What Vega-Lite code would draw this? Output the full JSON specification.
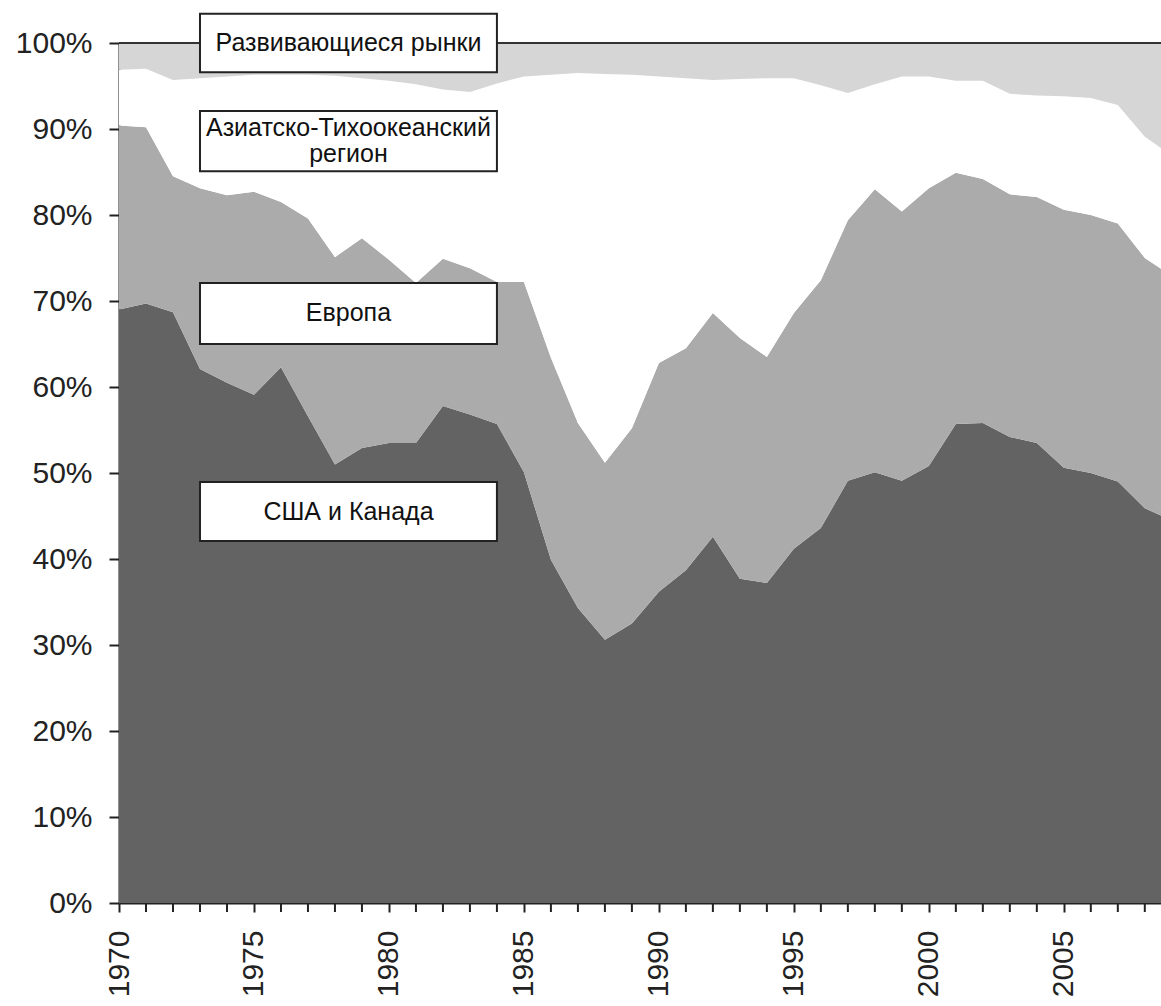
{
  "$schema": "https://vega.github.io/schema/vega-lite/v6.json",
  "autosize": "none",
  "width": 1042,
  "height": 860,
  "padding": {"left": 119, "top": 43, "right": 0, "bottom": 103},
  "background": "white",
  "config": {
    "view": {"stroke": null},
    "axis": {"grid": false, "labelFont": "Liberation Sans", "labelColor": "#222222", "domainColor": "#222222", "tickColor": "#222222", "domainWidth": 2, "tickWidth": 2}
  },
  "datasets": {
    "shares": [
      {"year": 1970, "region": "США и Канада", "share": 69.0}, {"year": 1970, "region": "Европа", "share": 21.4}, {"year": 1970, "region": "Азиатско-Тихоокеанский регион", "share": 6.5}, {"year": 1970, "region": "Развивающиеся рынки", "share": 3.1},
      {"year": 1971, "region": "США и Канада", "share": 69.7}, {"year": 1971, "region": "Европа", "share": 20.5}, {"year": 1971, "region": "Азиатско-Тихоокеанский регион", "share": 6.8}, {"year": 1971, "region": "Развивающиеся рынки", "share": 3.0},
      {"year": 1972, "region": "США и Канада", "share": 68.7}, {"year": 1972, "region": "Европа", "share": 15.8}, {"year": 1972, "region": "Азиатско-Тихоокеанский регион", "share": 11.2}, {"year": 1972, "region": "Развивающиеся рынки", "share": 4.3},
      {"year": 1973, "region": "США и Канада", "share": 62.1}, {"year": 1973, "region": "Европа", "share": 21.0}, {"year": 1973, "region": "Азиатско-Тихоокеанский регион", "share": 12.8}, {"year": 1973, "region": "Развивающиеся рынки", "share": 4.1},
      {"year": 1974, "region": "США и Канада", "share": 60.5}, {"year": 1974, "region": "Европа", "share": 21.8}, {"year": 1974, "region": "Азиатско-Тихоокеанский регион", "share": 13.8}, {"year": 1974, "region": "Развивающиеся рынки", "share": 3.9},
      {"year": 1975, "region": "США и Канада", "share": 59.1}, {"year": 1975, "region": "Европа", "share": 23.6}, {"year": 1975, "region": "Азиатско-Тихоокеанский регион", "share": 13.6}, {"year": 1975, "region": "Развивающиеся рынки", "share": 3.7},
      {"year": 1976, "region": "США и Канада", "share": 62.3}, {"year": 1976, "region": "Европа", "share": 19.2}, {"year": 1976, "region": "Азиатско-Тихоокеанский регион", "share": 14.8}, {"year": 1976, "region": "Развивающиеся рынки", "share": 3.7},
      {"year": 1977, "region": "США и Канада", "share": 56.6}, {"year": 1977, "region": "Европа", "share": 23.0}, {"year": 1977, "region": "Азиатско-Тихоокеанский регион", "share": 16.7}, {"year": 1977, "region": "Развивающиеся рынки", "share": 3.7},
      {"year": 1978, "region": "США и Канада", "share": 51.0}, {"year": 1978, "region": "Европа", "share": 24.1}, {"year": 1978, "region": "Азиатско-Тихоокеанский регион", "share": 21.1}, {"year": 1978, "region": "Развивающиеся рынки", "share": 3.8},
      {"year": 1979, "region": "США и Канада", "share": 52.9}, {"year": 1979, "region": "Европа", "share": 24.4}, {"year": 1979, "region": "Азиатско-Тихоокеанский регион", "share": 18.6}, {"year": 1979, "region": "Развивающиеся рынки", "share": 4.1},
      {"year": 1980, "region": "США и Канада", "share": 53.5}, {"year": 1980, "region": "Европа", "share": 21.3}, {"year": 1980, "region": "Азиатско-Тихоокеанский регион", "share": 20.8}, {"year": 1980, "region": "Развивающиеся рынки", "share": 4.4},
      {"year": 1981, "region": "США и Канада", "share": 53.5}, {"year": 1981, "region": "Европа", "share": 18.6}, {"year": 1981, "region": "Азиатско-Тихоокеанский регион", "share": 23.1}, {"year": 1981, "region": "Развивающиеся рынки", "share": 4.8},
      {"year": 1982, "region": "США и Канада", "share": 57.8}, {"year": 1982, "region": "Европа", "share": 17.1}, {"year": 1982, "region": "Азиатско-Тихоокеанский регион", "share": 19.7}, {"year": 1982, "region": "Развивающиеся рынки", "share": 5.4},
      {"year": 1983, "region": "США и Канада", "share": 56.8}, {"year": 1983, "region": "Европа", "share": 17.0}, {"year": 1983, "region": "Азиатско-Тихоокеанский регион", "share": 20.5}, {"year": 1983, "region": "Развивающиеся рынки", "share": 5.7},
      {"year": 1984, "region": "США и Канада", "share": 55.7}, {"year": 1984, "region": "Европа", "share": 16.5}, {"year": 1984, "region": "Азиатско-Тихоокеанский регион", "share": 23.1}, {"year": 1984, "region": "Развивающиеся рынки", "share": 4.7},
      {"year": 1985, "region": "США и Канада", "share": 50.1}, {"year": 1985, "region": "Европа", "share": 22.1}, {"year": 1985, "region": "Азиатско-Тихоокеанский регион", "share": 23.9}, {"year": 1985, "region": "Развивающиеся рынки", "share": 3.9},
      {"year": 1986, "region": "США и Канада", "share": 39.9}, {"year": 1986, "region": "Европа", "share": 23.5}, {"year": 1986, "region": "Азиатско-Тихоокеанский регион", "share": 32.9}, {"year": 1986, "region": "Развивающиеся рынки", "share": 3.7},
      {"year": 1987, "region": "США и Канада", "share": 34.3}, {"year": 1987, "region": "Европа", "share": 21.5}, {"year": 1987, "region": "Азиатско-Тихоокеанский регион", "share": 40.7}, {"year": 1987, "region": "Развивающиеся рынки", "share": 3.5},
      {"year": 1988, "region": "США и Канада", "share": 30.6}, {"year": 1988, "region": "Европа", "share": 20.6}, {"year": 1988, "region": "Азиатско-Тихоокеанский регион", "share": 45.2}, {"year": 1988, "region": "Развивающиеся рынки", "share": 3.6},
      {"year": 1989, "region": "США и Канада", "share": 32.5}, {"year": 1989, "region": "Европа", "share": 22.7}, {"year": 1989, "region": "Азиатско-Тихоокеанский регион", "share": 41.1}, {"year": 1989, "region": "Развивающиеся рынки", "share": 3.7},
      {"year": 1990, "region": "США и Канада", "share": 36.2}, {"year": 1990, "region": "Европа", "share": 26.6}, {"year": 1990, "region": "Азиатско-Тихоокеанский регион", "share": 33.3}, {"year": 1990, "region": "Развивающиеся рынки", "share": 3.9},
      {"year": 1991, "region": "США и Канада", "share": 38.7}, {"year": 1991, "region": "Европа", "share": 25.8}, {"year": 1991, "region": "Азиатско-Тихоокеанский регион", "share": 31.4}, {"year": 1991, "region": "Развивающиеся рынки", "share": 4.1},
      {"year": 1992, "region": "США и Канада", "share": 42.6}, {"year": 1992, "region": "Европа", "share": 26.0}, {"year": 1992, "region": "Азиатско-Тихоокеанский регион", "share": 27.1}, {"year": 1992, "region": "Развивающиеся рынки", "share": 4.3},
      {"year": 1993, "region": "США и Канада", "share": 37.7}, {"year": 1993, "region": "Европа", "share": 28.0}, {"year": 1993, "region": "Азиатско-Тихоокеанский регион", "share": 30.1}, {"year": 1993, "region": "Развивающиеся рынки", "share": 4.2},
      {"year": 1994, "region": "США и Канада", "share": 37.2}, {"year": 1994, "region": "Европа", "share": 26.3}, {"year": 1994, "region": "Азиатско-Тихоокеанский регион", "share": 32.4}, {"year": 1994, "region": "Развивающиеся рынки", "share": 4.1},
      {"year": 1995, "region": "США и Канада", "share": 41.2}, {"year": 1995, "region": "Европа", "share": 27.4}, {"year": 1995, "region": "Азиатско-Тихоокеанский регион", "share": 27.3}, {"year": 1995, "region": "Развивающиеся рынки", "share": 4.1},
      {"year": 1996, "region": "США и Канада", "share": 43.6}, {"year": 1996, "region": "Европа", "share": 28.8}, {"year": 1996, "region": "Азиатско-Тихоокеанский регион", "share": 22.7}, {"year": 1996, "region": "Развивающиеся рынки", "share": 4.9},
      {"year": 1997, "region": "США и Канада", "share": 49.1}, {"year": 1997, "region": "Европа", "share": 30.3}, {"year": 1997, "region": "Азиатско-Тихоокеанский регион", "share": 14.8}, {"year": 1997, "region": "Развивающиеся рынки", "share": 5.8},
      {"year": 1998, "region": "США и Канада", "share": 50.1}, {"year": 1998, "region": "Европа", "share": 32.9}, {"year": 1998, "region": "Азиатско-Тихоокеанский регион", "share": 12.2}, {"year": 1998, "region": "Развивающиеся рынки", "share": 4.8},
      {"year": 1999, "region": "США и Канада", "share": 49.1}, {"year": 1999, "region": "Европа", "share": 31.3}, {"year": 1999, "region": "Азиатско-Тихоокеанский регион", "share": 15.7}, {"year": 1999, "region": "Развивающиеся рынки", "share": 3.9},
      {"year": 2000, "region": "США и Канада", "share": 50.8}, {"year": 2000, "region": "Европа", "share": 32.3}, {"year": 2000, "region": "Азиатско-Тихоокеанский регион", "share": 13.0}, {"year": 2000, "region": "Развивающиеся рынки", "share": 3.9},
      {"year": 2001, "region": "США и Канада", "share": 55.7}, {"year": 2001, "region": "Европа", "share": 29.2}, {"year": 2001, "region": "Азиатско-Тихоокеанский регион", "share": 10.7}, {"year": 2001, "region": "Развивающиеся рынки", "share": 4.4},
      {"year": 2002, "region": "США и Канада", "share": 55.8}, {"year": 2002, "region": "Европа", "share": 28.4}, {"year": 2002, "region": "Азиатско-Тихоокеанский регион", "share": 11.4}, {"year": 2002, "region": "Развивающиеся рынки", "share": 4.4},
      {"year": 2003, "region": "США и Канада", "share": 54.2}, {"year": 2003, "region": "Европа", "share": 28.2}, {"year": 2003, "region": "Азиатско-Тихоокеанский регион", "share": 11.7}, {"year": 2003, "region": "Развивающиеся рынки", "share": 5.9},
      {"year": 2004, "region": "США и Канада", "share": 53.5}, {"year": 2004, "region": "Европа", "share": 28.6}, {"year": 2004, "region": "Азиатско-Тихоокеанский регион", "share": 11.8}, {"year": 2004, "region": "Развивающиеся рынки", "share": 6.1},
      {"year": 2005, "region": "США и Канада", "share": 50.6}, {"year": 2005, "region": "Европа", "share": 30.0}, {"year": 2005, "region": "Азиатско-Тихоокеанский регион", "share": 13.2}, {"year": 2005, "region": "Развивающиеся рынки", "share": 6.2},
      {"year": 2006, "region": "США и Канада", "share": 50.0}, {"year": 2006, "region": "Европа", "share": 30.0}, {"year": 2006, "region": "Азиатско-Тихоокеанский регион", "share": 13.6}, {"year": 2006, "region": "Развивающиеся рынки", "share": 6.4},
      {"year": 2007, "region": "США и Канада", "share": 49.0}, {"year": 2007, "region": "Европа", "share": 30.0}, {"year": 2007, "region": "Азиатско-Тихоокеанский регион", "share": 13.8}, {"year": 2007, "region": "Развивающиеся рынки", "share": 7.2},
      {"year": 2008, "region": "США и Канада", "share": 45.9}, {"year": 2008, "region": "Европа", "share": 29.1}, {"year": 2008, "region": "Азиатско-Тихоокеанский регион", "share": 14.1}, {"year": 2008, "region": "Развивающиеся рынки", "share": 10.9},
      {"year": 2009, "region": "США и Канада", "share": 44.5}, {"year": 2009, "region": "Европа", "share": 28.4}, {"year": 2009, "region": "Азиатско-Тихоокеанский регион", "share": 14.0}, {"year": 2009, "region": "Развивающиеся рынки", "share": 13.1}
    ],
    "labels": [
      {"label": "Развивающиеся рынки", "x1": 1973, "x2": 1984, "y1": 96.6, "y2": 103.4, "yc": 100.0},
      {"label": "Азиатско-Тихоокеанский\nрегион", "x1": 1973, "x2": 1984, "y1": 85.1, "y2": 92.1, "yc": 90.1},
      {"label": "Европа", "x1": 1973, "x2": 1984, "y1": 65.0, "y2": 72.1, "yc": 68.55},
      {"label": "США и Канада", "x1": 1973, "x2": 1984, "y1": 42.1, "y2": 48.95, "yc": 45.5}
    ],
    "years": [
      {"year": 1971}, {"year": 1972}, {"year": 1973}, {"year": 1974}, {"year": 1976}, {"year": 1977}, {"year": 1978}, {"year": 1979},
      {"year": 1981}, {"year": 1982}, {"year": 1983}, {"year": 1984}, {"year": 1986}, {"year": 1987}, {"year": 1988}, {"year": 1989},
      {"year": 1991}, {"year": 1992}, {"year": 1993}, {"year": 1994}, {"year": 1996}, {"year": 1997}, {"year": 1998}, {"year": 1999},
      {"year": 2001}, {"year": 2002}, {"year": 2003}, {"year": 2004}, {"year": 2006}, {"year": 2007}, {"year": 2008}
    ]
  },
  "layer": [
    {
      "data": {"name": "shares"},
      "transform": [
        {"calculate": "indexof(['США и Канада', 'Европа', 'Азиатско-Тихоокеанский регион', 'Развивающиеся рынки'], datum.region)", "as": "stackOrder"}
      ],
      "mark": {"type": "area", "clip": true, "interpolate": "linear"},
      "encoding": {
        "x": {
          "field": "year", "type": "quantitative",
          "scale": {"domain": [1970, 2008.6], "nice": false, "zero": false},
          "axis": {
            "title": null,
            "values": [1970, 1975, 1980, 1985, 1990, 1995, 2000, 2005],
            "format": "d",
            "labelAngle": -90, "labelAlign": "right", "labelBaseline": "middle",
            "labelFontSize": 30, "labelPadding": 18, "tickSize": 9, "labelFlush": false, "labelOverlap": false, "labelBound": false
          }
        },
        "y": {
          "field": "share", "type": "quantitative", "stack": "zero",
          "scale": {"domain": [0, 100], "nice": false},
          "axis": {
            "title": null,
            "values": [0,10,20,30,40,50,60,70,80,90,100],
            "labelExpr": "datum.value + '%'",
            "labelFontSize": 30, "labelPadding": 17, "tickSize": 10
          }
        },
        "color": {
          "field": "region", "type": "nominal",
          "scale": {
            "domain": ["США и Канада", "Европа", "Азиатско-Тихоокеанский регион", "Развивающиеся рынки"],
            "range": ["#636363", "#ababab", "#ffffff", "#d6d6d6"]
          },
          "legend": null
        },
        "order": {"field": "stackOrder", "type": "quantitative", "sort": "ascending"}
      }
    },
    {
      "data": {"name": "years"},
      "mark": {"type": "rule", "color": "#222222", "strokeWidth": 2, "clip": false},
      "encoding": {
        "x": {"field": "year", "type": "quantitative"},
        "y": {"datum": 0},
        "y2": {"datum": -1.05}
      }
    },
    {
      "data": {"values": [{"y": 100}]},
      "mark": {"type": "rule", "color": "#333333", "strokeWidth": 2},
      "encoding": {"y": {"field": "y", "type": "quantitative"}}
    },
    {
      "data": {"name": "labels"},
      "mark": {"type": "rect", "fill": "white", "stroke": "#222222", "strokeWidth": 2, "clip": false},
      "encoding": {
        "x": {"field": "x1", "type": "quantitative"},
        "x2": {"field": "x2"},
        "y": {"field": "y1", "type": "quantitative"},
        "y2": {"field": "y2"}
      }
    },
    {
      "data": {"name": "labels"},
      "transform": [{"calculate": "(datum.x1 + datum.x2) / 2", "as": "xc"}],
      "mark": {"type": "text", "font": "Liberation Sans", "fontSize": 25, "color": "#111111", "align": "center", "baseline": "middle", "lineBreak": "\n", "lineHeight": 26},
      "encoding": {
        "x": {"field": "xc", "type": "quantitative"},
        "y": {"field": "yc", "type": "quantitative"},
        "text": {"field": "label"}
      }
    }
  ]
}
